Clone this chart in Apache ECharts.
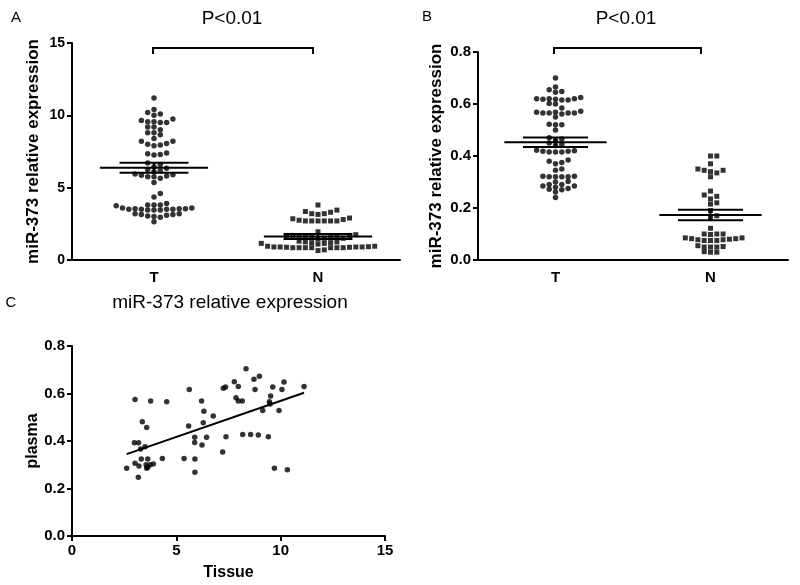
<!DOCTYPE html>
<html>
<head>
<meta charset="utf-8">
<script src="https://cdn.jsdelivr.net/npm/echarts@6/dist/echarts.min.js"></script>
<style>
  html, body { margin: 0; padding: 0; background: #fff; }
  #main { width: 800px; height: 585px; }
</style>
</head>
<body>
<div id="main"></div>
<script>
// values
var groups = ['T', 'N'];

var aTumor = [11.2, 10.2, 10.0, 10.1, 10.4, 9.75, 9.55, 9.5, 9.5, 9.55, 9.65, 9.2, 9.2,
  8.8, 8.65, 9.0, 8.8, 8.4, 8.2, 8.0, 7.9, 7.95, 8.05, 8.2, 7.4, 7.3, 7.25, 7.35,
  6.7, 6.6, 6.45, 6.35, 6.25, 6.15, 6.1,
  5.95, 5.9, 5.85, 5.8, 5.75, 5.75, 5.65, 5.35,
  4.6, 4.35, 3.9, 3.8, 3.75, 3.8, 3.8,
  3.6, 3.55, 3.5, 3.45, 3.45, 3.5, 3.55, 3.5, 3.45, 3.5, 3.55, 3.6,
  3.2, 3.15, 3.1, 3.15, 3.2, 3.0, 2.95, 3.05, 2.65];
var aNormal = [3.8, 3.35, 3.2, 3.15, 3.2, 3.3, 3.45, 2.9, 2.8, 2.7, 2.7, 2.7, 2.7, 2.7, 2.7, 2.75, 2.85, 1.95,
  1.75, 1.7, 1.7, 1.65, 1.6, 1.6, 1.55, 1.55, 1.5, 1.5, 1.45, 1.7,
  1.3, 1.25, 1.2, 1.2, 1.15, 1.1, 1.15, 1.25,
  0.95, 0.9, 0.9, 0.88, 0.85, 0.85, 0.85, 0.85, 0.85, 0.85, 0.85, 0.88, 0.9, 0.9, 0.92, 0.95, 0.7, 0.65];
var aMean = [6.38, 1.62];
var aSem = [0.35, 0.17];

var bTumor = [0.70, 0.665, 0.645, 0.648, 0.655,
  0.62, 0.62, 0.618, 0.615, 0.615, 0.618, 0.62, 0.625,
  0.60, 0.602, 0.585,
  0.565, 0.565, 0.568, 0.565, 0.562, 0.565, 0.568, 0.572, 0.55,
  0.52, 0.52, 0.522, 0.50,
  0.47, 0.465, 0.46, 0.45, 0.445, 0.44,
  0.42, 0.418, 0.415, 0.415, 0.415, 0.418, 0.422,
  0.385, 0.375, 0.38, 0.37, 0.35, 0.345,
  0.32, 0.32, 0.32, 0.32, 0.322, 0.322,
  0.30, 0.302,
  0.29, 0.285, 0.28, 0.275, 0.272, 0.27, 0.285, 0.29, 0.262, 0.24];
var bNormal = [0.40, 0.40, 0.37, 0.35, 0.345, 0.34, 0.345, 0.335, 0.32,
  0.265, 0.25, 0.245, 0.235, 0.22, 0.215,
  0.19, 0.17, 0.16,
  0.122, 0.10, 0.10, 0.098, 0.10,
  0.085, 0.082, 0.078, 0.075, 0.075, 0.075, 0.078, 0.08, 0.082, 0.085,
  0.055, 0.05, 0.05, 0.05, 0.052,
  0.03, 0.03, 0.032];
var bMean = [0.453, 0.173];
var bSem = [0.018, 0.02];

var cTissue = [2.62, 3.02, 2.99, 3.19, 3.37, 3.58, 3.29, 3.50, 3.32, 3.63, 3.02, 3.21, 3.18, 3.55, 3.63,
  3.74, 3.90, 3.58, 3.77, 4.33, 4.54, 5.37, 5.62, 5.59, 5.88, 5.88, 5.89, 5.89, 6.23, 6.45, 6.21,
  6.32, 6.29, 6.77, 7.22, 7.38, 7.25, 7.36, 7.78, 7.97, 7.86, 7.97, 8.16, 8.18, 8.34, 8.56, 8.72,
  8.98, 8.77, 8.93, 9.14, 9.41, 9.52, 9.46, 9.49, 9.62, 9.92, 10.06, 10.16, 9.70, 10.32, 11.12];
var cPlasma = [0.285, 0.575, 0.393, 0.393, 0.481, 0.457, 0.366, 0.376, 0.324, 0.324, 0.306, 0.295, 0.247, 0.30, 0.29,
  0.30, 0.303, 0.285, 0.568, 0.326, 0.565, 0.326, 0.617, 0.463, 0.416, 0.394, 0.324, 0.268, 0.383, 0.416, 0.568,
  0.525, 0.477, 0.505, 0.354, 0.418, 0.622, 0.627, 0.65, 0.629, 0.582, 0.568, 0.568, 0.427, 0.704, 0.427, 0.66,
  0.673, 0.617, 0.425, 0.528, 0.418, 0.589, 0.565, 0.556, 0.627, 0.528, 0.617, 0.648, 0.285, 0.279, 0.629];
// fitted line: intercept, slope
var cFit = [0.265, 0.0304];

var FONT = '"Liberation Sans", Arial, sans-serif';
var gridA = {left: 72, top: 43, width: 328, height: 217};
var gridB = {left: 478, top: 52, width: 310, height: 208};
var gridC = {left: 72, top: 346, width: 313, height: 190};

// simple beeswarm: spread values that would overlap sideways
function swarm(values, col, grid, yMax) {
  var pxX = grid.width / 2, pxY = grid.height / yMax;
  var step = 6.3 / pxX, gap = 4.6;
  var placed = [];
  return values.slice().sort(function (a, b) { return a - b; }).map(function (v) {
    for (var k = 0; ; k++) {
      var off = k === 0 ? 0 : (k % 2 ? 1 : -1) * Math.ceil(k / 2);
      var clash = placed.some(function (p) { return p.c === off && Math.abs(p.v - v) * pxY < gap; });
      if (!clash) {
        placed.push({c: off, v: v});
        return [col + off * step, v];
      }
    }
  });
}

function meanSem(xIdx, yIdx, mean, sem) {
  return {
    type: 'custom', xAxisIndex: xIdx, yAxisIndex: yIdx, silent: true, z: 5,
    data: mean.map(function (m, i) { return [i, m, sem[i]]; }),
    renderItem: function (params, api) {
      var x = api.value(0), m = api.value(1), s = api.value(2);
      function seg(x0, y0, x1, y1) {
        var a = api.coord([x0, y0]), b = api.coord([x1, y1]);
        return {type: 'line', shape: {x1: a[0], y1: a[1], x2: b[0], y2: b[1]},
          style: {stroke: '#000', lineWidth: 2}};
      }
      return {type: 'group', children: [
        seg(x - 0.33, m, x + 0.33, m),
        seg(x - 0.21, m + s, x + 0.21, m + s),
        seg(x - 0.21, m - s, x + 0.21, m - s),
        seg(x, m - s, x, m + s)
      ]};
    }
  };
}

var axisLine = {onZero: false, lineStyle: {color: '#000', width: 2}};
var axisTick = {length: 5, lineStyle: {color: '#000', width: 2}};
function label(size, fmt) {
  return {color: '#000', fontWeight: 'bold', fontSize: size, fontFamily: FONT, margin: 7, formatter: fmt};
}
function nameStyle(size) {
  return {color: '#000', fontWeight: 'bold', fontSize: size, fontFamily: FONT};
}
var dec1 = function (v) { return v.toFixed(1); };

function catAxis(gi) {
  return {type: 'category', gridIndex: gi, data: groups, boundaryGap: true,
    axisLine: axisLine, axisTick: {alignWithLabel: true, length: 5, lineStyle: {color: '#000', width: 2}},
    axisLabel: {color: '#000', fontWeight: 'bold', fontSize: 15, fontFamily: FONT, margin: 10},
    splitLine: {show: false}};
}
function hiddenX(gi) {
  return {type: 'value', gridIndex: gi, min: -0.5, max: 1.5, show: false,
    axisLine: {show: false, onZero: false}, splitLine: {show: false}};
}

var myChart = echarts.init(document.getElementById('main'));

var option = {
  backgroundColor: '#fff',
  animation: false,
  grid: [
    Object.assign({outerBoundsMode: 'none'}, gridA),
    Object.assign({outerBoundsMode: 'none'}, gridB),
    Object.assign({outerBoundsMode: 'none'}, gridC)
  ],
  xAxis: [
    catAxis(0), hiddenX(0),
    catAxis(1), hiddenX(1),
    {type: 'value', gridIndex: 2, min: 0, max: 15, interval: 5,
      axisLine: axisLine, axisTick: axisTick, axisLabel: label(15), splitLine: {show: false},
      name: 'Tissue', nameLocation: 'middle', nameGap: 29, nameTextStyle: nameStyle(16)}
  ],
  yAxis: [
    {type: 'value', gridIndex: 0, min: 0, max: 15, interval: 5,
      axisLine: axisLine, axisTick: axisTick, axisLabel: label(14), splitLine: {show: false},
      name: 'miR-373 relative expression', nameLocation: 'middle', nameGap: 30, nameTextStyle: nameStyle(17)},
    {type: 'value', gridIndex: 1, min: 0, max: 0.8, interval: 0.2,
      axisLine: axisLine, axisTick: axisTick, axisLabel: label(15, dec1), splitLine: {show: false},
      name: 'miR-373 relative expression', nameLocation: 'middle', nameGap: 33, nameTextStyle: nameStyle(17)},
    {type: 'value', gridIndex: 2, min: 0, max: 0.8, interval: 0.2,
      axisLine: axisLine, axisTick: axisTick, axisLabel: label(15, dec1), splitLine: {show: false},
      name: 'plasma', nameLocation: 'middle', nameGap: 31, nameTextStyle: nameStyle(16)}
  ],
  series: [
    {type: 'scatter', xAxisIndex: 1, yAxisIndex: 0, symbol: 'circle', symbolSize: 5.5,
      itemStyle: {color: '#000'}, data: swarm(aTumor, 0, gridA, 15)},
    {type: 'scatter', xAxisIndex: 1, yAxisIndex: 0, symbol: 'rect', symbolSize: 5,
      itemStyle: {color: '#000'}, data: swarm(aNormal, 1, gridA, 15)},
    meanSem(1, 0, aMean, aSem),
    {type: 'scatter', xAxisIndex: 3, yAxisIndex: 1, symbol: 'circle', symbolSize: 5.5,
      itemStyle: {color: '#000'}, data: swarm(bTumor, 0, gridB, 0.8)},
    {type: 'scatter', xAxisIndex: 3, yAxisIndex: 1, symbol: 'rect', symbolSize: 5,
      itemStyle: {color: '#000'}, data: swarm(bNormal, 1, gridB, 0.8)},
    meanSem(3, 1, bMean, bSem),
    {type: 'scatter', xAxisIndex: 4, yAxisIndex: 2, symbol: 'circle', symbolSize: 5.5,
      itemStyle: {color: '#000'},
      data: cTissue.map(function (x, i) { return [x, cPlasma[i]]; })},
    {type: 'line', xAxisIndex: 4, yAxisIndex: 2, symbol: 'none', silent: true,
      lineStyle: {color: '#000', width: 2},
      data: [Math.min.apply(null, cTissue), Math.max.apply(null, cTissue)].map(function (x) {
        return [x, cFit[0] + cFit[1] * x];
      })}
  ],
  graphic: [
    {type: 'text', x: 16, y: 18, style: {text: 'A', font: '15px ' + FONT, fill: '#000', align: 'center', verticalAlign: 'middle'}},
    {type: 'text', x: 427, y: 17, style: {text: 'B', font: '15px ' + FONT, fill: '#000', align: 'center', verticalAlign: 'middle'}},
    {type: 'text', x: 11, y: 303, style: {text: 'C', font: '15px ' + FONT, fill: '#000', align: 'center', verticalAlign: 'middle'}},
    {type: 'text', x: 232, y: 19, style: {text: 'P<0.01', font: '19px ' + FONT, fill: '#000', align: 'center', verticalAlign: 'middle'}},
    {type: 'text', x: 626, y: 19, style: {text: 'P<0.01', font: '19px ' + FONT, fill: '#000', align: 'center', verticalAlign: 'middle'}},
    {type: 'text', x: 230, y: 303, style: {text: 'miR-373 relative expression', font: '19px ' + FONT, fill: '#000', align: 'center', verticalAlign: 'middle'}},
    {type: 'polyline', shape: {points: [[153, 54], [153, 48], [313, 48], [313, 54]]},
      style: {stroke: '#000', lineWidth: 2, fill: null}},
    {type: 'polyline', shape: {points: [[554, 54], [554, 48], [701, 48], [701, 54]]},
      style: {stroke: '#000', lineWidth: 2, fill: null}}
  ]
};
myChart.setOption(option);
</script>
</body>
</html>
